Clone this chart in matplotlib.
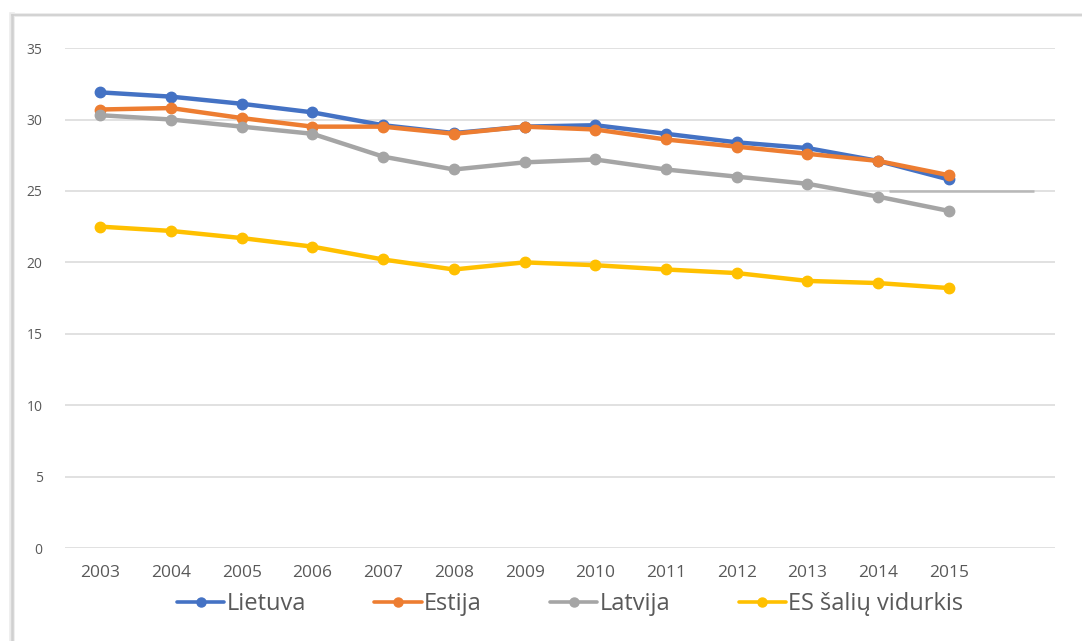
import matplotlib.pyplot as plt
from matplotlib.lines import Line2D

plt.rcParams['font.family'] = ['Open Sans', 'DejaVu Sans']

metai = ["2003", "2004", "2005", "2006", "2007", "2008", "2009",
         "2010", "2011", "2012", "2013", "2014", "2015"]
lietuva = [31.9, 31.6, 31.1, 30.5, 29.6, 29.05, 29.5, 29.6, 29.0, 28.4, 28.0, 27.1, 25.8]
estija = [30.7, 30.8, 30.1, 29.5, 29.5, 29.0, 29.5, 29.3, 28.6, 28.1, 27.6, 27.1, 26.1]
latvija = [30.3, 30.0, 29.5, 29.0, 27.4, 26.5, 27.0, 27.2, 26.5, 26.0, 25.5, 24.6, 23.6]
es_vidurkis = [22.5, 22.2, 21.7, 21.1, 20.2, 19.5, 20.0, 19.8, 19.5, 19.25, 18.7, 18.55, 18.2]

serijos = [("Lietuva", lietuva, "#4472C4"),
           ("Estija", estija, "#ED7D31"),
           ("Latvija", latvija, "#A5A5A5"),
           ("ES šalių vidurkis", es_vidurkis, "#FFC000")]

fig = plt.figure(figsize=(10.82, 6.41), dpi=100)
ax = fig.add_axes([0.060, 0.145, 0.915, 0.780])

x = list(range(len(metai)))
for pav, reiksmes, spalva in serijos:
    ax.plot(x, reiksmes, color=spalva, lw=3.2, marker="o", ms=7.5,
            label=pav, solid_capstyle="round")

# pilka linija ties 25
ax.hlines(25, 11.15, 13.2, color="#B8B8B8", lw=1.8, zorder=1)

ax.set_xlim(-0.5, 13.5)
ax.set_ylim(0, 35)
ax.set_yticks(range(0, 36, 5))
ax.set_xticks(x)
ax.set_xticklabels(metai)
ax.grid(axis="y", color="#DEDEDE", lw=1.3)
ax.set_axisbelow(True)
for s in ax.spines.values():
    s.set_visible(False)
ax.tick_params(axis="y", length=0, pad=16, labelsize=10, labelcolor="#595959")
ax.tick_params(axis="x", length=0, pad=12, labelsize=12.5, labelcolor="#595959")

leg = fig.legend(loc="center", bbox_to_anchor=(0.527, 0.057), ncol=4,
                 frameon=False, fontsize=17, handlelength=2.0,
                 handletextpad=0.1, columnspacing=2.9, labelcolor="#595959")
for h in leg.get_lines():
    h.set_linewidth(2.6)
    h.set_markersize(6.5)

# šešėlis aplink diagramą
for w, c in [(4, "#EBEBEB"), (1.8, "#D0D0D0")]:
    fig.add_artist(Line2D([12 / 1082, 12 / 1082], [0, 1 - 15 / 641],
                          transform=fig.transFigure, color=c, lw=w))
    fig.add_artist(Line2D([12 / 1082, 1], [1 - 15 / 641, 1 - 15 / 641],
                          transform=fig.transFigure, color=c, lw=w * 0.7))

fig.savefig("out.png", dpi=100)
